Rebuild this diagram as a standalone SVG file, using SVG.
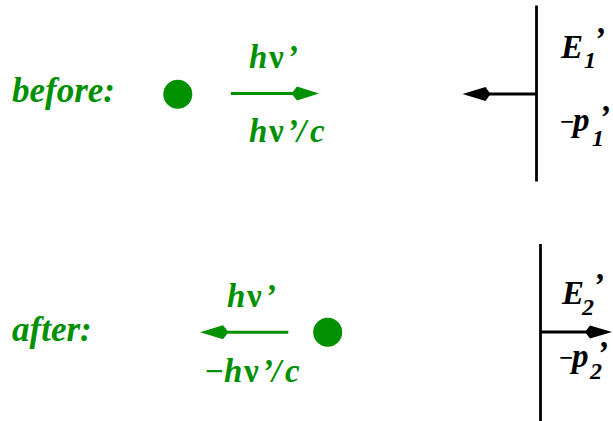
<svg xmlns="http://www.w3.org/2000/svg" width="613" height="421" viewBox="0 0 613 421">
<style>
.g{fill:#009000}
.k{fill:#000}
.t{font-family:"Liberation Serif","Times New Roman",serif;font-weight:bold;font-style:italic}
.big{font-size:35px}
.lab{font-size:33px}
.sub{font-size:24px}
.mn{font-size:25px;font-style:normal}
.nu{font-style:normal}
.gl{stroke:#009000;stroke-width:3;fill:none}
.kl{stroke:#000;stroke-width:2.8;fill:none}
</style>
<rect width="613" height="421" fill="#fff"/>
<g id="label-before"><text class="t big g" x="12" y="102">before:</text></g>
<g id="label-after"><text class="t big g" x="12" y="341">after:</text></g>
<g id="particle-before"><circle class="g" cx="177.8" cy="94.3" r="14.5"/></g>
<g id="particle-after"><circle class="g" cx="327.7" cy="332.3" r="14.5"/></g>
<g id="photon-before-labels">
<text class="t lab g" x="249 269 287" y="68">h<tspan class="nu">ν</tspan>’</text>
<text class="t lab g" x="249 269 287 297 310" y="142">h<tspan class="nu">ν</tspan>’/c</text>
</g>
<g id="photon-after-labels">
<text class="t lab g" x="227 247 265" y="307">h<tspan class="nu">ν</tspan>’</text>
<text class="t lab g" x="204 224 244 262 272 285" y="382">−h<tspan class="nu">ν</tspan>’/c</text>
</g>
<g id="mirror-before">
<path class="kl" d="M536.5 5.5V181.5"/>
<text class="t lab k" x="561" y="58">E<tspan class="sub" x="584" y="68">1</tspan><tspan x="594" y="50">’</tspan></text>
<text class="t lab k" x="560" y="130"><tspan class="mn">−</tspan><tspan x="573" y="131">p</tspan><tspan class="sub" x="592" y="146">1</tspan><tspan x="599" y="128">’</tspan></text>
</g>
<g id="mirror-after">
<path class="kl" d="M540.5 244V421"/>
<text class="t lab k" x="562" y="304">E<tspan class="sub" x="582" y="315">2</tspan><tspan x="593" y="296">’</tspan></text>
<text class="t lab k" x="559" y="366"><tspan class="mn">−</tspan><tspan x="572" y="367">p</tspan><tspan class="sub" x="590" y="379">2</tspan><tspan x="597" y="364">’</tspan></text>
</g>
<g id="connectors">
<path class="gl" d="M231 93.5H293"/>
<path class="g" d="M319 93.5L297 86.5L291.5 93.5L297 100.5Z"/>
<path class="gl" d="M227 332.3H288.3"/>
<path class="g" d="M200 332.3L223 325.3L228.5 332.3L223 339.3Z"/>
<path class="kl" d="M489 94H536.5"/>
<path class="k" d="M462.5 94L485.5 87L490.5 94L485.5 101Z"/>
<path class="kl" d="M540.5 332H587"/>
<path class="k" d="M612 332L590 325.5L585 332L590 338.5Z"/>
</g>
</svg>
